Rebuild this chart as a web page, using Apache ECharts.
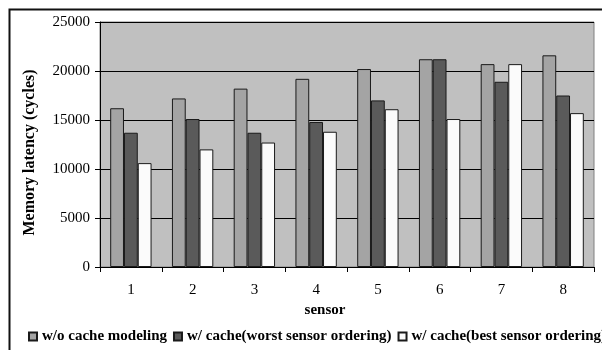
<!DOCTYPE html>
<html>
<head>
<meta charset="utf-8">
<script src="https://cdn.jsdelivr.net/npm/echarts@6/dist/echarts.min.js"></script>
<style>html,body{margin:0;padding:0;background:#fff;}#c{width:602px;height:350px;}</style>
</head>
<body>
<div id="c"></div>
<script>
const categories = ['1', '2', '3', '4', '5', '6', '7', '8'];
const seriesNames = ['w/o cache modeling', 'w/ cache(worst sensor ordering)', 'w/ cache(best sensor ordering)'];
const noCache = [16200, 17200, 18200, 19200, 20200, 21200, 20700, 21600];
const worstOrder = [13700, 15100, 13700, 14800, 17000, 21200, 18900, 17500];
const bestOrder = [10600, 12000, 12700, 13800, 16100, 15100, 20700, 15700];
const yTicks = [0, 5000, 10000, 15000, 20000, 25000];

const font = 'Liberation Serif';
const colors = ['#a4a4a4', '#5a5a5a', '#fbfbfb'];
const values = [noCache, worstOrder, bestOrder];

const chart = echarts.init(document.getElementById('c'));
chart.setOption({
  animation: false,
  backgroundColor: '#ffffff',
  textStyle: { fontFamily: font },
  graphic: [{
    type: 'rect', left: 7, top: 7, z: 100, silent: true,
    shape: { width: 700, height: 500 },
    style: { fill: 'none', stroke: '#111', lineWidth: 2 }
  }],
  grid: {
    left: 100, top: 22, right: 8, bottom: 83,
    show: true, backgroundColor: '#c0c0c0', borderColor: '#808080', borderWidth: 1
  },
  legend: {
    left: 23, top: 324, width: 900,
    itemWidth: 8, itemHeight: 8, itemGap: 6,
    icon: 'rect',
    textStyle: { fontFamily: font, fontSize: 15, fontWeight: 'bold', color: '#000' },
    data: seriesNames
  },
  xAxis: {
    type: 'category', data: categories,
    name: 'sensor', nameLocation: 'middle', nameGap: 25,
    nameTextStyle: { fontFamily: font, fontSize: 15, fontWeight: 'bold', color: '#000', padding: [0, 44, 0, 0] },
    axisLine: { lineStyle: { color: '#000', width: 1 } },
    axisTick: { show: true, length: 5, lineStyle: { color: '#000' } },
    axisLabel: { fontFamily: font, fontSize: 15, color: '#000', margin: 16 }
  },
  yAxis: {
    type: 'value', min: yTicks[0], max: yTicks[yTicks.length - 1], interval: yTicks[1] - yTicks[0],
    name: 'Memory latency (cycles)', nameLocation: 'middle', nameGap: 62,
    nameTextStyle: { fontFamily: font, fontSize: 16, fontWeight: 'bold', color: '#000', padding: [0, 16, 0, 0] },
    axisLine: { show: true, lineStyle: { color: '#000', width: 1 } },
    axisTick: { show: true, length: 5, lineStyle: { color: '#000' } },
    axisLabel: { fontFamily: font, fontSize: 15, color: '#000', margin: 10, formatter: v => String(v) },
    splitLine: { show: true, lineStyle: { color: '#000', width: 1 } }
  },
  series: seriesNames.map((name, i) => ({
    name, type: 'bar', data: values[i],
    barGap: '0%', barCategoryGap: '33%',
    itemStyle: { color: colors[i], borderColor: '#1a1a1a', borderWidth: 1 }
  }))
});
</script>
</body>
</html>
